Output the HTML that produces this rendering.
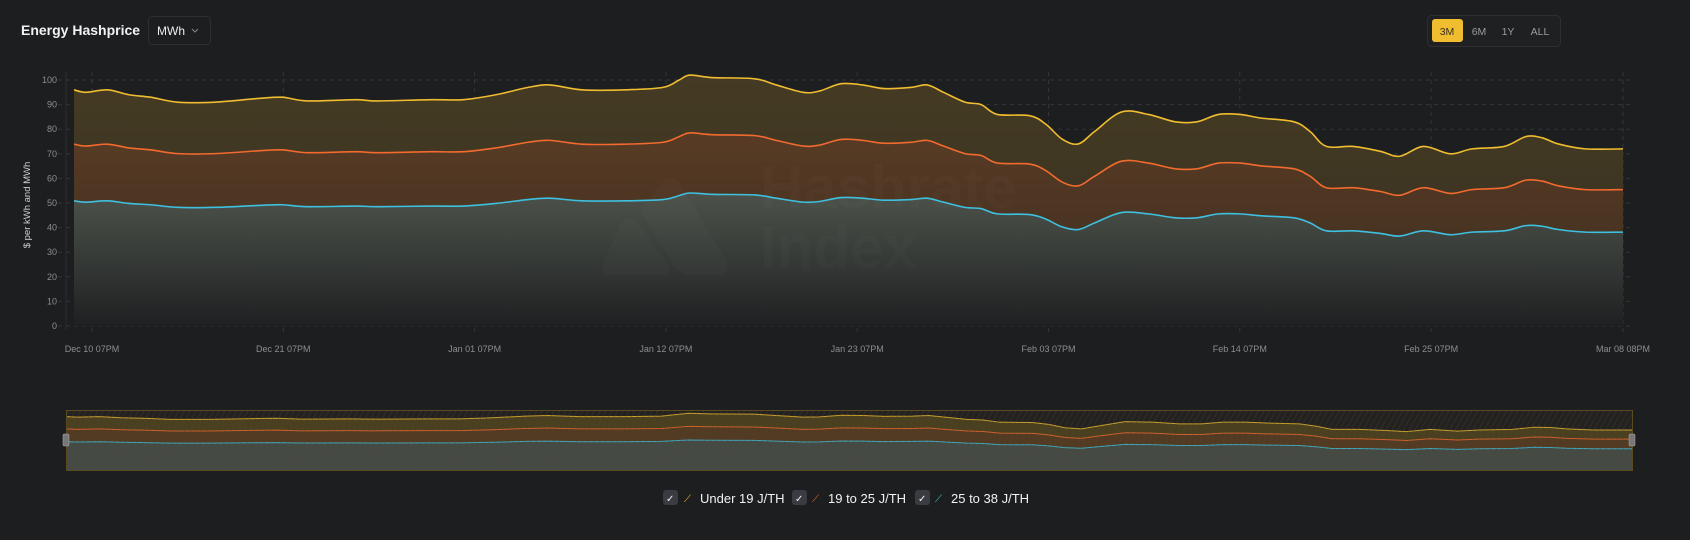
<!DOCTYPE html>
<html><head><meta charset="utf-8"><style>
body{margin:0;width:1690px;height:540px;background:#1d1e20;overflow:hidden;font-family:"Liberation Sans",sans-serif;}
svg{position:absolute;left:0;top:0}
</style></head><body>
<svg width="1690" height="540" id="s" xmlns="http://www.w3.org/2000/svg">
<defs>
<linearGradient id="gy" x1="0" y1="0" x2="0" y2="1"><stop offset="0" stop-color="#453b24"/><stop offset="1" stop-color="#35301f"/></linearGradient>
<linearGradient id="go" x1="0" y1="0" x2="0" y2="1"><stop offset="0" stop-color="#583b24"/><stop offset="1" stop-color="#3a2c20"/></linearGradient>
<linearGradient id="gb" x1="0" y1="0" x2="0" y2="1"><stop offset="0" stop-color="#4c524a"/><stop offset="0.5" stop-color="#363a37"/><stop offset="1" stop-color="#1f2022"/></linearGradient>
<pattern id="hatch" width="5" height="5" patternUnits="userSpaceOnUse" patternTransform="rotate(30)"><line x1="0" y1="0" x2="0" y2="5" stroke="#4a4530" stroke-width="1"/></pattern>
</defs>
<text x="21" y="35" fill="#f2f2f2" font-size="14" font-weight="bold">Energy Hashprice</text>
<rect x="148.5" y="16.5" width="62" height="28" rx="4" fill="none" stroke="#2e2f33"/>
<text x="157" y="35" fill="#eee" font-size="12">MWh</text>
<path d="M192 29 l3 3 l3 -3" fill="none" stroke="#888" stroke-width="1"/>
<rect x="1427.5" y="15.5" width="133" height="31" rx="4" fill="#1f2022" stroke="#2e2f33"/>
<rect x="1432" y="19" width="31" height="23" rx="3" fill="#f0bc30"/>
<g font-size="10.5" text-anchor="middle"><text x="1447" y="35" fill="#3a3020">3M</text><text x="1479" y="35" fill="#9a9ca2">6M</text><text x="1508" y="35" fill="#9a9ca2">1Y</text><text x="1540" y="35" fill="#9a9ca2">ALL</text></g>
<text transform="translate(30,205) rotate(-90)" fill="#cfd0d2" font-size="9.5" text-anchor="middle">$ per kWh and MWh</text>
<g id="grid"></g>
<g id="areas"></g>
<g fill="#ffffff" fill-opacity="0.02">
<path d="M662 184 Q670 172 680 184 L726 260 Q732 275 715 275 L690 275 Q680 275 672 262 L640 210 Z"/>
<path d="M620 225 Q628 212 640 225 L668 265 Q674 275 660 275 L612 275 Q598 275 604 262 Z"/>
<text x="760" y="208" font-size="60" font-weight="bold">Hashrate</text>
<text x="760" y="268" font-size="60" font-weight="bold">Index</text>
</g>
<g id="lines"></g>
<g id="labels" font-size="9" fill="#8c8e92"></g>
<rect x="66" y="410" width="1566" height="60" fill="#232220"/>
<g id="nav"></g>
<rect x="66" y="410" width="1566" height="60" fill="url(#hatch)" opacity="0.6"/>
<rect x="66.5" y="410.5" width="1566" height="60" fill="none" stroke="#5a4a20"/>
<rect x="63" y="434" width="6" height="12" rx="1" fill="#777" stroke="#aaa" stroke-width="0.5"/>
<rect x="1629" y="434" width="6" height="12" rx="1" fill="#777" stroke="#aaa" stroke-width="0.5"/>
<g font-size="13" fill="#f2f2f2">
<rect x="663" y="490" width="15" height="15" rx="3" fill="#3a3c42"/><text x="666" y="502" font-size="10">✓</text>
<text x="684" y="502" font-size="10" fill="#f0bc30">⟋</text><text x="700" y="503">Under 19 J/TH</text>
<rect x="792" y="490" width="15" height="15" rx="3" fill="#3a3c42"/><text x="795" y="502" font-size="10">✓</text>
<text x="812" y="502" font-size="10" fill="#f26a2e">⟋</text><text x="828" y="503">19 to 25 J/TH</text>
<rect x="915" y="490" width="15" height="15" rx="3" fill="#3a3c42"/><text x="918" y="502" font-size="10">✓</text>
<text x="935" y="502" font-size="10" fill="#3ec0e0">⟋</text><text x="951" y="503">25 to 38 J/TH</text>
</g>
</svg>
<script>
var NS="http://www.w3.org/2000/svg";
function el(p,t,a,txt){var e=document.createElementNS(NS,t);for(var k in a)e.setAttribute(k,a[k]);if(txt)e.textContent=txt;document.getElementById(p).appendChild(e);return e;}
var Y0=326,PU=2.46,X0=74,X1=1623;
function vy(v){return Y0-v*PU;}
for(var i=0;i<=10;i++){var y=vy(i*10);el("grid","line",{x1:58,x2:1633,y1:y,y2:y,stroke:"#34353a","stroke-dasharray":"4 4"});
 el("labels","text",{x:57,y:y+3,"text-anchor":"end"},String(i*10));}
el("grid","line",{x1:66,x2:66,y1:72,y2:330,stroke:"#2e2f33"});
var dates=["Dec 10 07PM","Dec 21 07PM","Jan 01 07PM","Jan 12 07PM","Jan 23 07PM","Feb 03 07PM","Feb 14 07PM","Feb 25 07PM"];
for(var i=0;i<8;i++){var x=92+191.3*i;el("grid","line",{x1:x,x2:x,y1:72,y2:333,stroke:"#34353a","stroke-dasharray":"4 4"});el("labels","text",{x:x,y:352,"text-anchor":"middle"},dates[i]);}
el("grid","line",{x1:1623,x2:1623,y1:72,y2:333,stroke:"#34353a","stroke-dasharray":"4 4"});
el("labels","text",{x:1623,y:352,"text-anchor":"middle"},"Mar 08 08PM");
var P=[[69,96],[80,95],[100,96],[120,94],[140,93],[165,91],[200,91],[240,92.5],[262,93],[285,91.5],[330,92],[350,91.5],[400,92],[430,92],[460,94],[490,97],[510,98],[540,96],[580,96],[615,97],[630,100],[640,102],[660,101],[700,100.5],[720,98],[745,95],[760,95.5],[780,98.5],[800,98],[820,96.5],[845,97],[860,98],[875,95],[895,91],[910,90],[925,86],[955,85.5],[970,82],[985,76],[1000,74],[1015,79],[1040,87],[1065,86],[1090,83],[1110,83],[1130,86],[1150,86],[1170,84.5],[1200,83],[1215,79],[1230,73],[1255,73],[1280,71],[1298,69],[1320,73],[1345,70],[1365,72],[1395,73],[1415,77],[1430,76.5],[1445,74],[1470,72],[1505,72]];
function xs(dx){return X0+(dx-69)*(X1-X0)/(1505-69);}
function path(f,yf){var pts=P.map(function(p){return [xs(p[0]),yf(f*p[1])];});var d="M"+pts[0][0]+" "+pts[0][1];
for(var i=0;i<pts.length-1;i++){var p0=pts[Math.max(0,i-1)],p1=pts[i],p2=pts[i+1],p3=pts[Math.min(pts.length-1,i+2)];
d+=" C"+(p1[0]+(p2[0]-p0[0])/6)+" "+(p1[1]+(p2[1]-p0[1])/6)+" "+(p2[0]-(p3[0]-p1[0])/6)+" "+(p2[1]-(p3[1]-p1[1])/6)+" "+p2[0]+" "+p2[1];}return d;}
var S=[[1,"url(#gy)","#f0bc30"],[0.77,"url(#go)","#f26a2e"],[0.53,"url(#gb)","#3ec0e0"]];
S.forEach(function(s){var d=path(s[0],vy);el("areas","path",{d:d+" L"+X1+" "+Y0+" L"+X0+" "+Y0+" Z",fill:s[1]});el("lines","path",{d:d,fill:"none",stroke:s[2],"stroke-width":1.6});});
function ny(v){return 470-v*0.556;}
var NX0=66,NX1=1632;
function pathN(f){var pts=P.map(function(p){return [NX0+(p[0]-69)*(NX1-NX0)/(1505-69),ny(f*p[1])];});return "M"+pts.map(function(p){return p[0]+" "+p[1];}).join(" L");}
var NF=["#4a4020","#533a22","#454b44"];
S.forEach(function(s,i){var d=pathN(s[0]);el("nav","path",{d:d+" L"+NX1+" 470 L"+NX0+" 470 Z",fill:NF[i]});});
S.forEach(function(s){el("nav","path",{d:pathN(s[0]),fill:"none",stroke:s[2],"stroke-width":1,opacity:0.8});});
</script>
</body></html>
